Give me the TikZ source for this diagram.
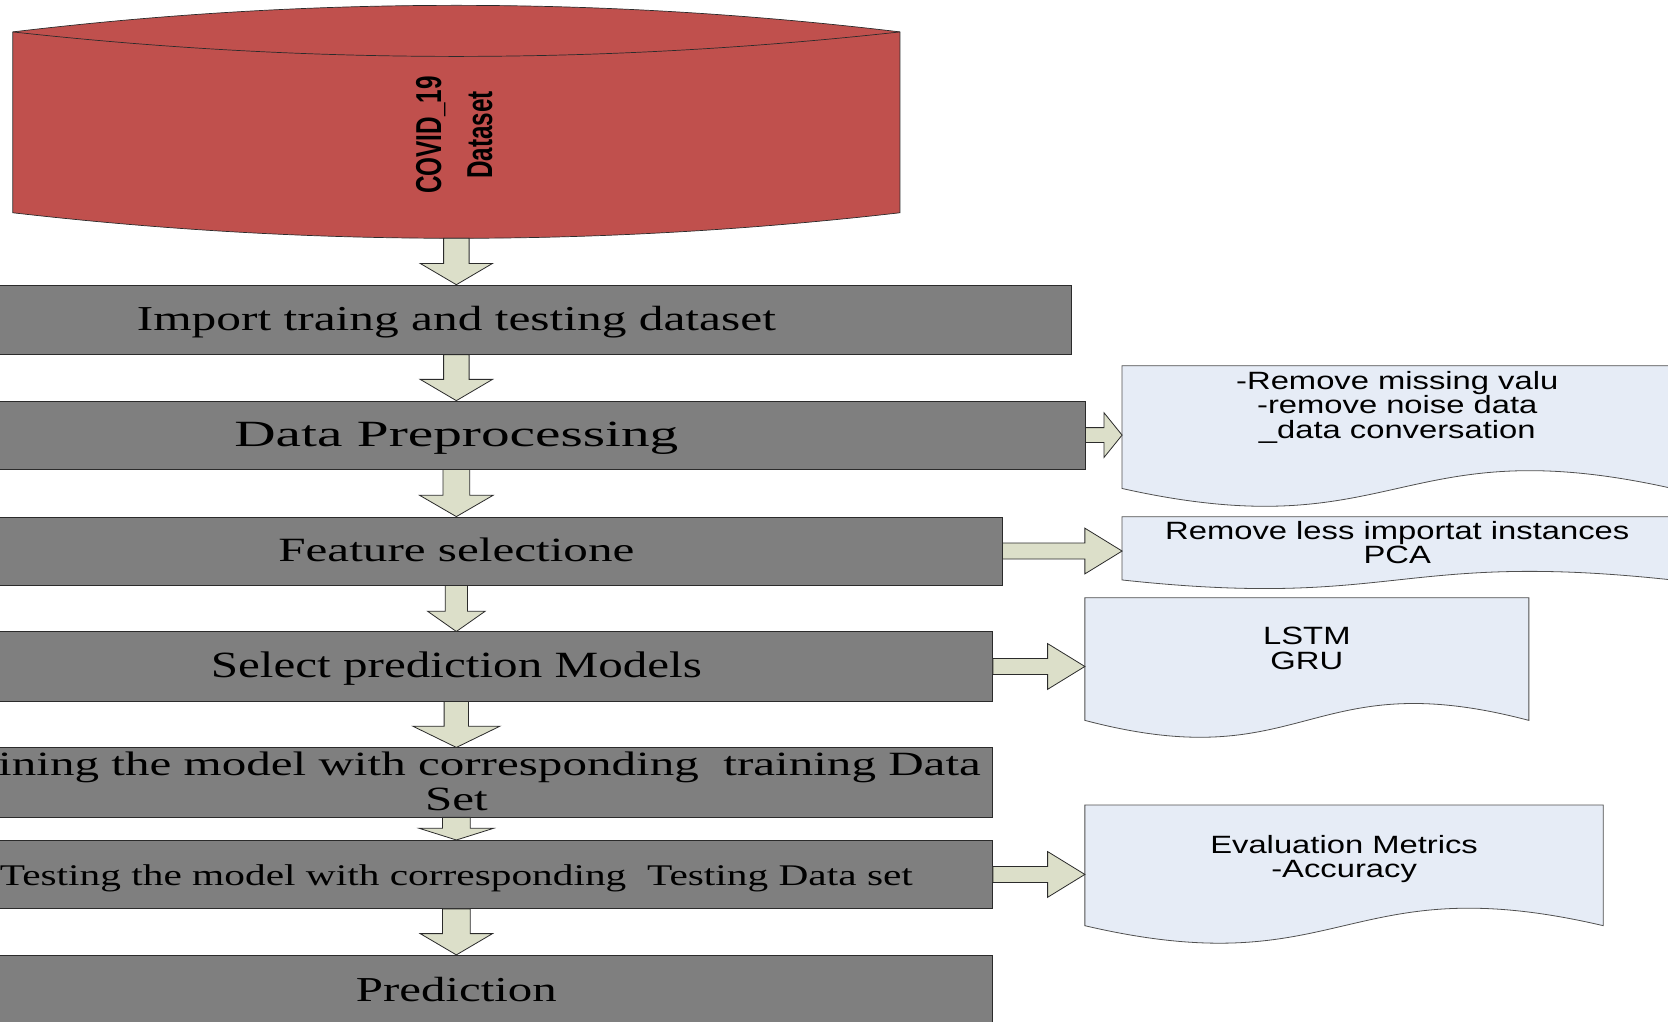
\documentclass[tikz,border=0pt]{standalone}
\usepackage{fontspec}
\usepackage{graphicx}
\setmainfont{Liberation Serif}
\newfontfamily\docfont[FakeStretch=1.31]{Liberation Sans}
\newfontfamily\cylfont[FakeStretch=0.675]{Liberation Sans}
\usetikzlibrary{calc}
\definecolor{cylred}{HTML}{C0504D}
\definecolor{boxgray}{HTML}{7F7F7F}
\definecolor{arrowfill}{HTML}{DCDFC9}
\definecolor{docfill}{HTML}{E6ECF6}
\definecolor{edgedark}{HTML}{2B2B2B}
\definecolor{docedge}{HTML}{505050}
\def\U{1.0638pt}
\newcommand\stxt[3]{\resizebox{#1pt}{\height}{\fontsize{#2}{#2}\selectfont #3}}
\newcommand\mlines[1]{\vtop{\lineskiplimit=-60pt\halign{\hfil##\hfil\cr#1\crcr}}}
\newcommand\darr[5]{\path[barrow] let \p1=(#1), \p2=(#2) in
  (\x2-#3*\U,\y1) -- (\x2-#3*\U,\y2+#5*\U) -- (\x2-#4*\U,\y2+#5*\U) -- (\x2,\y2)
  -- (\x2+#4*\U,\y2+#5*\U) -- (\x2+#3*\U,\y2+#5*\U) -- (\x2+#3*\U,\y1) -- cycle;}
\newcommand\rarr[5]{\path[barrow] let \p1=(#1), \p2=(#2) in
  (\x1,\y1+#3*\U) -- (\x2-#5*\U,\y1+#3*\U) -- (\x2-#5*\U,\y1+#4*\U) -- (\x2,\y1)
  -- (\x2-#5*\U,\y1-#4*\U) -- (\x2-#5*\U,\y1-#3*\U) -- (\x1,\y1-#3*\U) -- cycle;}
\newcommand\docpath[2]{\path[docshape] (#1.north west) -- (#1.north east) -- (#1.south east)
  .. controls ($(#1.south)+(0,-#2)$) and ($(#1.south)+(0,#2)$) .. (#1.south west) -- cycle;}
\begin{document}
\begin{tikzpicture}[x=1.0638pt,y=-1.0638pt,
  gbox/.style={draw=edgedark, fill=boxgray, line width=0.8pt, inner sep=0pt},
  dbox/.style={inner sep=0pt},
  docshape/.style={draw=docedge, fill=docfill, line width=0.8pt},
  barrow/.style={draw=edgedark, fill=arrowfill, line width=0.8pt, line join=miter},
  stext/.style={inner sep=0pt, text=black},
  dtext/.style={inner sep=0pt, text=black, font={\docfont\fontsize{25}{24.5}\selectfont}},
  cylbody/.style={draw=edgedark, fill=cylred, line width=0.7pt},
  cylline/.style={draw=edgedark, line width=0.7pt}]
\useasboundingbox (0,0) rectangle (1568,960);
\clip (0,0) rectangle (1568,960);
\fill[white] (0,0) rectangle (1568,960);

% cylinder
\path[cylbody] (12,30) .. controls (290,-3.3) and (568,-3.3) .. (846,30) -- (846,200)
  .. controls (568,232) and (290,232) .. (12,200) -- cycle;
\draw[cylline] (12,30) .. controls (290,60.7) and (568,60.7) .. (846,30);
\coordinate (cylb) at (429,224);
\node[inner sep=0pt, rotate=90, font={\cylfont\bfseries\fontsize{36}{51}\selectfont}] (cyltxt) at (427,127) {\mlines{COVID\_19\cr Dataset}};

% process boxes
\node[gbox, minimum width=1156*\U, minimum height=65*\U] (b1) at (429,300.5) {};
\node[gbox, minimum width=1182*\U, minimum height=64*\U] (b2) at (429,409) {};
\node[gbox, minimum width=1026*\U, minimum height=64*\U] (b3) at (429,518) {};
\node[gbox, minimum width=1008*\U, minimum height=65*\U] (b4) at (429,626.5) {};
\node[gbox, minimum width=1008*\U, minimum height=65*\U] (b5) at (429,735.5) {};
\node[gbox, minimum width=1008*\U, minimum height=64*\U] (b6) at (429,822) {};
\node[gbox, minimum width=1008*\U, minimum height=92*\U] (b7) at (429,944) {};

% documents
\node[dbox, minimum width=517*\U, minimum height=115*\U] (d1) at (1313.5,401.5) {};
\node[dbox, minimum width=517*\U, minimum height=59*\U] (d2) at (1313.5,515.5) {};
\node[dbox, minimum width=417*\U, minimum height=115*\U] (d3) at (1228.5,619.5) {};
\node[dbox, minimum width=487*\U, minimum height=113*\U] (d4) at (1263.5,813.5) {};
\docpath{d1}{58}
\docpath{d2}{28}
\docpath{d3}{55}
\docpath{d4}{57}

% down arrows
\darr{cylb}{b1.north}{12}{34}{20}
\darr{b1.south}{b2.north}{12}{34}{20}
\darr{b2.south}{b3.north}{12.5}{34.5}{20}
\darr{b3.south}{b4.north}{10.5}{27}{19}
\darr{b4.south}{b5.north}{11.5}{41}{20}
\darr{b5.south}{b6.north}{13}{35}{11}
\darr{b6.south}{b7.north}{13}{34}{20}

% right arrows
\rarr{b2.east}{d1.west}{7}{21}{17}
\rarr{b3.east}{d2.west}{7.5}{21.5}{35}
\rarr{b4.east}{d3.west}{7.5}{21.5}{35}
\rarr{b6.east}{d4.west}{7.5}{21.5}{35}

% box texts
\node[stext, anchor=base] (t1) at (429,311) {\stxt{639}{35}{Import traing and testing dataset}};
\node[stext, anchor=base] (t2) at (429,420) {\stxt{444}{37}{Data Preprocessing}};
\node[stext, anchor=base] (t3) at (429,528) {\stxt{356}{34}{Feature selectione}};
\node[stext, anchor=base] (t4) at (429,637) {\stxt{491}{37}{Select prediction Models}};
\node[stext, anchor=base] (t5) at (429,729) {\resizebox{1049pt}{\height}{\fontsize{34}{35}\selectfont\mlines{Training the model with corresponding~ training Data\cr Set}}};
\node[stext, anchor=base] (t6) at (429,832) {\stxt{913}{30}{Testing the model with corresponding~ Testing Data set}};
\node[stext, anchor=base] (t7) at (429,941) {\stxt{201}{35}{Prediction}};

% document texts
\node[dtext, anchor=base] (dt1) at (1313.5,366) {\mlines{-Remove missing valu\cr -remove noise data\cr \_data conversation}};
\node[dtext, anchor=base] (dt2) at (1313.5,507) {\mlines{Remove less importat instances\cr PCA}};
\node[dtext, anchor=base] (dt3) at (1228.5,606) {\mlines{LSTM\cr GRU}};
\node[dtext, anchor=base] (dt4) at (1263.5,802) {\mlines{Evaluation Metrics\cr -Accuracy}};
\end{tikzpicture}
\end{document}
